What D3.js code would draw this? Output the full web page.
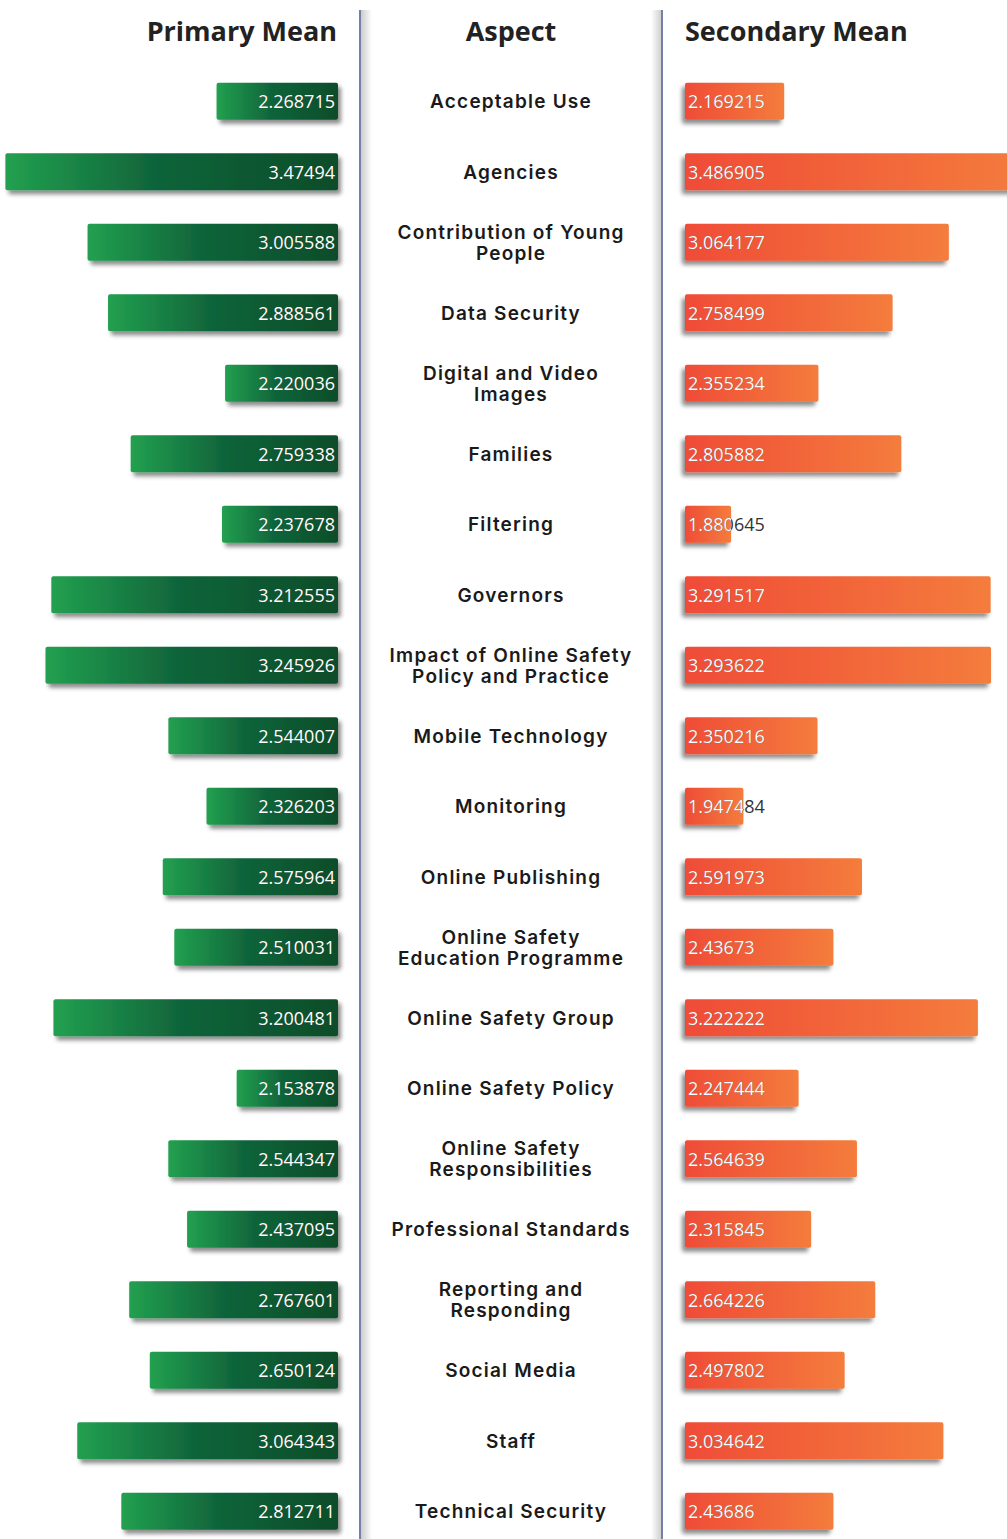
<!DOCTYPE html>
<html>
<head>
<meta charset="utf-8">
<script src="https://cdn.jsdelivr.net/npm/d3@7"></script>
<style>
  body { margin: 0; background: #fff; }
  svg { display: block; }
</style>
</head>
<body>
<div id="chart"></div>
<script>
(function(d3) {
  'use strict';

  var aspects = [
    'Acceptable Use', 'Agencies', 'Contribution of Young\nPeople', 'Data Security',
    'Digital and Video\nImages', 'Families', 'Filtering', 'Governors',
    'Impact of Online Safety\nPolicy and Practice', 'Mobile Technology', 'Monitoring',
    'Online Publishing', 'Online Safety\nEducation Programme', 'Online Safety Group',
    'Online Safety Policy', 'Online Safety\nResponsibilities', 'Professional Standards',
    'Reporting and\nResponding', 'Social Media', 'Staff', 'Technical Security'
  ];

  var primaryMean = [
    2.268715, 3.47494, 3.005588, 2.888561, 2.220036, 2.759338, 2.237678, 3.212555,
    3.245926, 2.544007, 2.326203, 2.575964, 2.510031, 3.200481, 2.153878, 2.544347,
    2.437095, 2.767601, 2.650124, 3.064343, 2.812711
  ];

  var secondaryMean = [
    2.169215, 3.486905, 3.064177, 2.758499, 2.355234, 2.805882, 1.880645, 3.291517,
    3.293622, 2.350216, 1.947484, 2.591973, 2.43673, 3.222222, 2.247444, 2.564639,
    2.315845, 2.664226, 2.497802, 3.034642, 2.43686
  ];

  var headers = ['Primary Mean', 'Aspect', 'Secondary Mean'];

  var width = 1007;
  var height = 1539;
  var leftEdge = 338;
  var rightEdge = 685;
  var barH = 37;

  var svg = d3.select('#chart')
    .append('svg')
    .attr('width', width)
    .attr('height', height);

  var defs = svg.append('defs');

  var gGreen = defs.append('linearGradient').attr('id', 'gGreen');
  gGreen.append('stop').attr('offset', '0%').attr('stop-color', '#22a050');
  gGreen.append('stop').attr('offset', '45%').attr('stop-color', '#10643a');
  gGreen.append('stop').attr('offset', '100%').attr('stop-color', '#0d4d29');

  var gOrange = defs.append('linearGradient').attr('id', 'gOrange');
  gOrange.append('stop').attr('offset', '0%').attr('stop-color', '#ef4c37');
  gOrange.append('stop').attr('offset', '100%').attr('stop-color', '#f47c3c');

  var shL = defs.append('linearGradient').attr('id', 'shL');
  shL.append('stop').attr('offset', '0%').attr('stop-color', '#000').attr('stop-opacity', 0.2);
  shL.append('stop').attr('offset', '100%').attr('stop-color', '#000').attr('stop-opacity', 0);
  var shR = defs.append('linearGradient').attr('id', 'shR');
  shR.append('stop').attr('offset', '0%').attr('stop-color', '#000').attr('stop-opacity', 0);
  shR.append('stop').attr('offset', '100%').attr('stop-color', '#000').attr('stop-opacity', 0.2);

  function dropShadow(id, dx) {
    defs.append('filter')
      .attr('id', id)
      .attr('x', '-10%').attr('y', '-30%')
      .attr('width', '120%').attr('height', '170%')
      .append('feDropShadow')
      .attr('dx', dx).attr('dy', 4)
      .attr('stdDeviation', 2.2)
      .attr('flood-color', '#000')
      .attr('flood-opacity', 0.45);
  }
  dropShadow('dsL', 3);
  dropShadow('dsR', -3);

  var y = d3.scaleBand()
    .domain(d3.range(aspects.length))
    .range([66, 66 + 70.5 * aspects.length])
    .paddingInner(1 - barH / 70.5)
    .paddingOuter((1 - barH / 70.5) / 2);

  var wLeft = d3.scaleLinear().domain([1.575, 3.5]).range([0, 337]);
  var wRight = d3.scaleLinear().domain([1.63, 3.5]).range([0, 344]);

  // middle panel dividers
  svg.append('rect').attr('x', 361).attr('y', 10).attr('width', 11).attr('height', height)
    .attr('fill', 'url(#shL)');
  svg.append('rect').attr('x', 651).attr('y', 10).attr('width', 11).attr('height', height)
    .attr('fill', 'url(#shR)');
  [360, 662].forEach(function(x) {
    svg.append('line')
      .attr('x1', x).attr('x2', x)
      .attr('y1', 10).attr('y2', height)
      .attr('stroke', '#7480a8')
      .attr('stroke-width', 2);
  });

  // headers
  svg.selectAll('.header')
    .data(headers)
    .enter()
    .append('text')
    .attr('class', 'header')
    .attr('x', function(d, i) { return [337, 511, 685][i]; })
    .attr('y', 41)
    .attr('text-anchor', function(d, i) { return ['end', 'middle', 'start'][i]; })
    .style('font-family', '"Open Sans", sans-serif')
    .style('font-weight', 700)
    .style('font-size', '27px')
    .style('fill', '#222')
    .text(function(d) { return d; });

  function side(values, scale, name) {
    var isLeft = name === 'L';
    var g = svg.append('g');

    var rows = g.selectAll('.row' + name)
      .data(values)
      .enter()
      .append('g')
      .attr('class', 'row' + name);

    function barX(d) { return isLeft ? leftEdge - scale(d) : rightEdge; }

    defs.selectAll('.clip' + name)
      .data(values)
      .enter()
      .append('clipPath')
      .attr('class', 'clip' + name)
      .attr('id', function(d, i) { return 'clip' + name + i; })
      .append('rect')
      .attr('x', barX)
      .attr('y', function(d, i) { return y(i); })
      .attr('width', function(d) { return scale(d); })
      .attr('height', y.bandwidth());

    rows.append('rect')
      .attr('x', barX)
      .attr('y', function(d, i) { return y(i); })
      .attr('width', function(d) { return scale(d); })
      .attr('height', y.bandwidth())
      .attr('rx', 2)
      .attr('fill', isLeft ? 'url(#gGreen)' : 'url(#gOrange)')
      .attr('filter', isLeft ? 'url(#dsL)' : 'url(#dsR)');

    var tx = isLeft ? leftEdge - 3 : rightEdge + 3;
    ['#333', '#fff'].forEach(function(col) {
      rows.append('text')
        .attr('x', tx)
        .attr('y', function(d, i) { return y(i) + y.bandwidth() / 2; })
        .attr('dy', '0.38em')
        .attr('text-anchor', isLeft ? 'end' : 'start')
        .attr('clip-path', col === '#fff' ? function(d, i) { return 'url(#clip' + name + i + ')'; } : null)
        .style('font-family', '"Open Sans", sans-serif')
        .style('font-size', '18px')
        .style('fill', col)
        .text(function(d) { return d; });
    });
  }

  side(primaryMean, wLeft, 'L');
  side(secondaryMean, wRight, 'R');

  // aspect labels
  var labels = svg.selectAll('.aspect')
    .data(aspects)
    .enter()
    .append('text')
    .attr('class', 'aspect')
    .attr('text-anchor', 'middle')
    .style('font-family', 'Inter, sans-serif')
    .style('font-weight', 600)
    .style('font-size', '19px')
    .style('letter-spacing', '1.2px')
    .style('fill', '#1a1a1a');

  labels.each(function(d, i) {
    var lines = d.split('\n');
    var cy = y(i) + y.bandwidth() / 2;
    var lineH = 21;
    var first = cy - (lines.length - 1) * lineH / 2 + 7;
    d3.select(this).selectAll('tspan')
      .data(lines)
      .enter()
      .append('tspan')
      .attr('x', 511)
      .attr('y', function(l, j) { return first + j * lineH; })
      .text(function(l) { return l; });
  });

})(window.d3);
</script>
</body>
</html>
